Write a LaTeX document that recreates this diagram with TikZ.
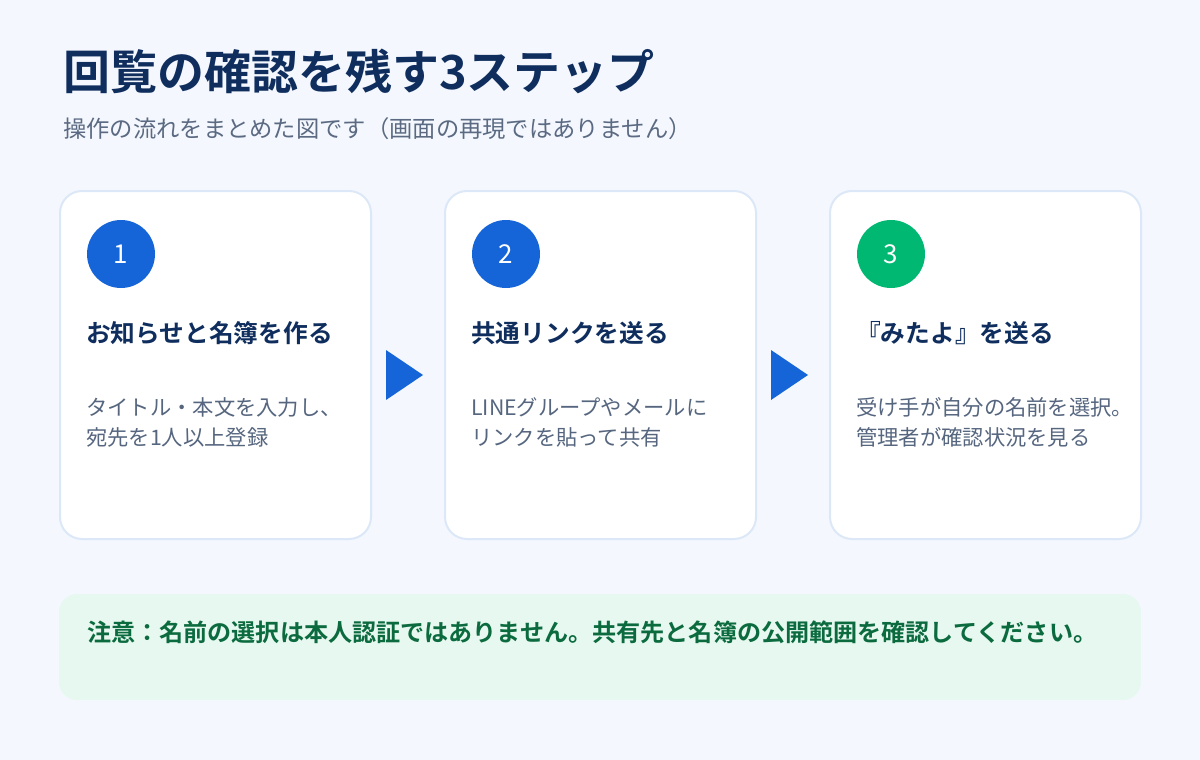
\documentclass[tikz,border=0pt]{standalone}
\usepackage{fontspec}
\setmainfont{Noto Sans CJK JP}[BoldFont={Noto Sans CJK JP Bold}]
\usetikzlibrary{calc,positioning}
\definecolor{pagebg}{HTML}{F4F8FE}
\definecolor{cardline}{HTML}{DCE8F7}
\definecolor{stepblue}{HTML}{1565D8}
\definecolor{stepgreen}{HTML}{00B872}
\definecolor{navy}{HTML}{0F2E5E}
\definecolor{bodygray}{HTML}{56667F}
\definecolor{subgray}{HTML}{5B6A82}
\definecolor{notebg}{HTML}{E6F8EF}
\definecolor{notetext}{HTML}{0B6B3F}

\begin{document}
\begin{tikzpicture}[x=1pt, y=-1pt,
  card/.style={rectangle, draw=cardline, line width=2pt, fill=white, rounded corners=22pt, minimum width=311pt, minimum height=348pt},
  num/.style={circle, minimum size=68pt, inner sep=0pt, text=white, font=\fontsize{26}{26}\selectfont},
  steptitle/.style={anchor=base west, inner sep=0pt, text=navy, font=\fontsize{24.7}{24.7}\selectfont\bfseries},
  stepbody/.style={anchor=base west, inner sep=0pt, align=left, text=bodygray, font=\fontsize{21.3}{30}\selectfont},
  tri/.style={fill=stepblue}
]
  % page
  \fill[pagebg] (0,0) rectangle (1200,760);
  \node[anchor=base west, inner sep=0pt, text=navy, font=\fontsize{47}{47}\selectfont\bfseries] (title) at (63,89.5) {回覧の確認を残す3ステップ};
  \node[anchor=base west, inner sep=0pt, text=subgray, font=\fontsize{23.3}{23.3}\selectfont] (subtitle) at (63,137.5) {操作の流れをまとめた図です（画面の再現ではありません）};

  % cards
  \node[card] (card1) at (215.5,365) {};
  \node[card] (card2) at (600.5,365) {};
  \node[card] (card3) at (985.5,365) {};

  \node[num, fill=stepblue] (num1) at (121,254) {1};
  \node[num, fill=stepblue] (num2) at (506,254) {2};
  \node[num, fill=stepgreen] (num3) at (891,254) {3};

  \node[steptitle] (title1) at (86,342) {お知らせと名簿を作る};
  \node[steptitle] (title2) at (471,342) {共通リンクを送る};
  \node[steptitle] (title3) at (856,342) {『みたよ』を送る};

  % base anchor sits on the last line
  \node[stepbody] (body1) at (86,445) {タイトル・本文を入力し、\\宛先を1人以上登録};
  \node[stepbody] (body2) at (471,445) {LINEグループやメールに\\リンクを貼って共有};
  \node[stepbody] (body3) at (856,445) {受け手が自分の名前を選択。\\管理者が確認状況を見る};

  % arrows between cards
  \fill[tri] ($(card1.east)+(14,-15)$) -- ($(card1.east)+(51,10)$) -- ($(card1.east)+(14,35)$) -- cycle;
  \fill[tri] ($(card2.east)+(14,-15)$) -- ($(card2.east)+(51,10)$) -- ($(card2.east)+(14,35)$) -- cycle;

  % note
  \node[rectangle, fill=notebg, rounded corners=18pt, minimum width=1082pt, minimum height=106pt] (note) at (600,647) {};
  \node[anchor=base west, inner sep=0pt, text=notetext, font=\fontsize{24.1}{24.1}\selectfont\bfseries] (notetxt) at (87,641) {注意：名前の選択は本人認証ではありません。共有先と名簿の公開範囲を確認してください。};
\end{tikzpicture}
\end{document}
